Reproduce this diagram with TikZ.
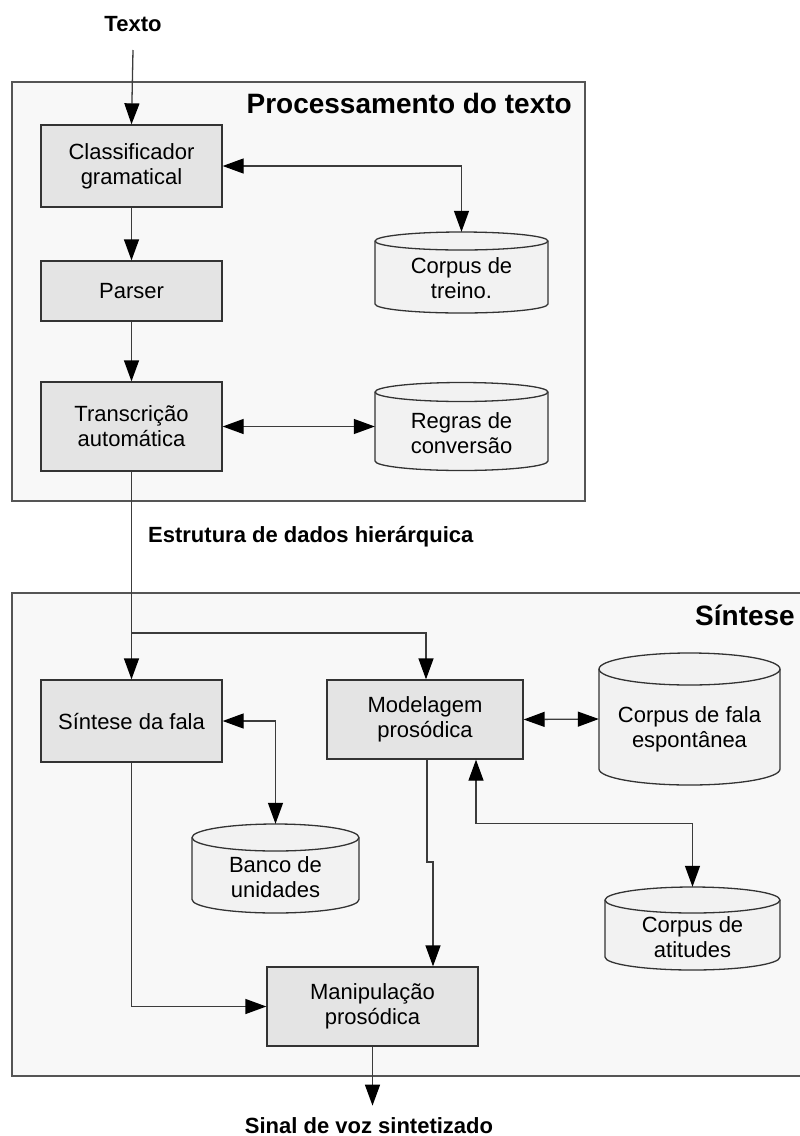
\documentclass[tikz,border=0pt]{standalone}
\usepackage{fontspec}
\setmainfont{Liberation Sans}
\usetikzlibrary{arrows.meta,calc}
\definecolor{panelfill}{HTML}{F8F8F8}
\definecolor{paneledge}{HTML}{555555}
\definecolor{boxfill}{HTML}{E4E4E4}
\definecolor{cylfill}{HTML}{F2F2F2}
\definecolor{edge}{HTML}{333333}
\definecolor{linec}{HTML}{3C3C3C}
\tikzset{
  txt/.style={font=\fontsize{22}{25}\selectfont, align=center, text=black},
  lbl/.style={font=\fontsize{22}{25}\selectfont\bfseries, text=black, inner sep=0pt},
  ttl/.style={font=\fontsize{28}{32}\selectfont\bfseries, text=black, inner sep=0pt},
  procbox/.style={txt, draw=edge, fill=boxfill, line width=1.3pt, inner sep=0pt},
  cylnode/.style={draw=none, inner sep=0pt},
  cylshape/.style={draw=edge, fill=cylfill, line width=1.3pt},
  panel/.style={fill=panelfill},
  paneline/.style={draw=paneledge, line width=1.5pt},
  tip/.style={Triangle[length=21pt,width=15pt,color=black]},
  arr/.style={draw=linec, line width=1.3pt, -{Triangle[length=21pt,width=15pt,color=black]}},
  arrr/.style={draw=linec, line width=1.3pt, {Triangle[length=21pt,width=15pt,color=black]}-{Triangle[length=21pt,width=15pt,color=black]}},
  conn/.style={draw=linec, line width=1.3pt},
}
% name, cx, cy (pixels down), w, h, ry, text
\newcommand\mycyl[7]{%
  \path[cylshape] (#2-#4/2,-#3+#5/2-#6) -- (#2-#4/2,-#3-#5/2+#6)
    arc[start angle=180,end angle=360,x radius=#4/2,y radius=#6]
    -- (#2+#4/2,-#3+#5/2-#6)
    arc[start angle=0,end angle=180,x radius=#4/2,y radius=#6] -- cycle;
  \draw[cylshape, fill=none] (#2-#4/2,-#3+#5/2-#6)
    arc[start angle=180,end angle=360,x radius=#4/2,y radius=#6];
  \node[cylnode, minimum width=#4pt, minimum height=#5pt] (#1) at (#2,-#3) {};
  \node[txt] (#1-t) at (#2,-#3-0.65*#6) {#7};
}
\begin{document}
\begin{tikzpicture}[x=1pt,y=1pt]
\useasboundingbox (0,0) rectangle (800,-1136);

% panels
\path[panel] (12,-82) rectangle (585,-501);
\draw[paneline] (12,-82) rectangle (585,-501);
\path[panel] (12,-593) rectangle (800,-1076);
\draw[paneline] (800,-593) -- (12,-593) -- (12,-1076) -- (800,-1076);

\node[ttl, anchor=base east] (tproc) at (572,-113) {Processamento do texto};
\node[ttl, anchor=base east] (tsint) at (795,-625) {Síntese};

% labels
\node[lbl, anchor=base] (texto) at (133,-31) {Texto};
\node[lbl, anchor=base west] (estr) at (148,-542) {Estrutura de dados hierárquica};
\node[lbl, anchor=base] (sinal) at (369,-1133) {Sinal de voz sintetizado};

% process boxes
\node[procbox, minimum width=181pt, minimum height=82pt] (cls) at (131.5,-166) {Classificador\\gramatical};
\node[procbox, minimum width=181pt, minimum height=60pt] (parser) at (131.5,-291) {Parser};
\node[procbox, minimum width=181pt, minimum height=89pt] (trans) at (131.5,-426.5) {Transcrição\\automática};
\node[procbox, minimum width=181pt, minimum height=82pt] (sfala) at (131.5,-721) {Síntese da fala};
\node[procbox, minimum width=196pt, minimum height=79pt] (model) at (425,-719.5) {Modelagem\\prosódica};
\node[procbox, minimum width=211pt, minimum height=79pt] (manip) at (372.5,-1006.5) {Manipulação\\prosódica};

% databases
\mycyl{ctreino}{461.5}{272.5}{173}{81}{9}{Corpus de\\treino.}
\mycyl{regras}{461.5}{426.5}{173}{88}{9.5}{Regras de\\conversão}
\mycyl{cfala}{689.5}{719}{181}{132}{16}{Corpus de fala\\espontânea}
\mycyl{banco}{275.5}{868.5}{167}{89}{13.5}{Banco de\\unidades}
\mycyl{catit}{692.5}{928.5}{175}{83}{13}{Corpus de\\atitudes}

% connectors
\draw[arr] ([yshift=-19pt]texto.base) -- (cls.north);
\draw[arrr] (cls.east) -| (ctreino.north);
\draw[arr] (cls.south) -- (parser.north);
\draw[arr] (parser.south) -- (trans.north);
\draw[arrr] (trans.east) -- (regras.west);
\coordinate (br) at (131.5,-633);
\draw[arr] (trans.south) -- (sfala.north);
\draw[arr] (br) -| ([xshift=1pt]model.north);
\draw[arrr] (sfala.east) -| (banco.north);
\draw[arrr] (model.east) -- (cfala.west);
\draw[arrr] ([xshift=51pt]model.south) -- ++(0,-64) -| (catit.north);
\coordinate (j1) at (427,-862);
\coordinate (j2) at (433,-862);
\draw[arr] (model.south -| j1) -- (j1) -- (j2) -- (j2 |- manip.north);
\draw[arr] (sfala.south) |- (manip.west);
\draw[arr] (manip.south) -- ++(0,-59);
\end{tikzpicture}
\end{document}
